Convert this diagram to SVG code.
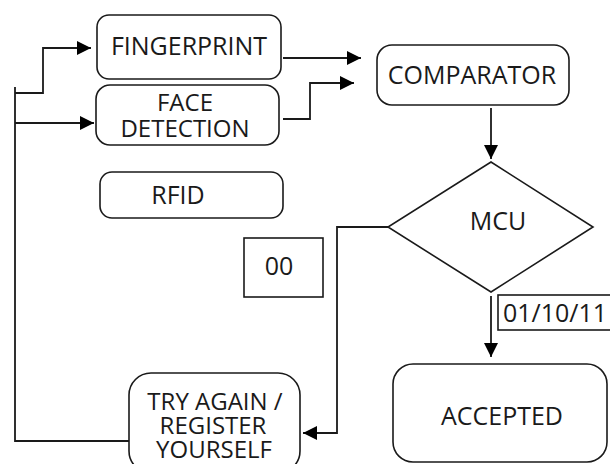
<svg xmlns="http://www.w3.org/2000/svg" width="610" height="464" viewBox="0 0 610 464">
<style>
.box{fill:#fff;stroke:#1a1a1a;stroke-width:1.6}
.t{font-family:"Open Sans","Noto Sans",sans-serif;font-size:25px;fill:#1a1a1a;text-anchor:middle}
.s{font-size:24px}
.c{fill:none;stroke:#1a1a1a;stroke-width:1.8}
</style>
<defs>
<marker id="ah" viewBox="0 0 14 14" refX="14" refY="7" markerWidth="14" markerHeight="14" markerUnits="userSpaceOnUse" orient="auto">
<path d="M0,0 L14,7 L0,14 z" fill="#000"/>
</marker>
</defs>
<g id="connectors">
<path class="c" d="M15,87 V441 H129"/>
<path class="c" d="M15,93 H43 V48 H91" marker-end="url(#ah)"/>
<path class="c" d="M15,123 H94" marker-end="url(#ah)"/>
<path class="c" d="M283,58 H361" marker-end="url(#ah)"/>
<path class="c" d="M283,119 H310 V83 H354" marker-end="url(#ah)"/>
<path class="c" d="M491,108 V159" marker-end="url(#ah)"/>
<path class="c" d="M388,227 H337 V433 H303" marker-end="url(#ah)"/>
<path class="c" d="M491,296 V357" marker-end="url(#ah)"/>
</g>
<g id="fingerprint">
<rect class="box" x="97" y="15" width="184" height="64" rx="12"/>
<text class="t" x="189" y="55">FINGERPRINT</text>
</g>
<g id="face-detection">
<rect class="box" x="96" y="85" width="183" height="60" rx="14"/>
<text class="t s" x="185" y="111">FACE</text>
<text class="t s" x="185" y="137">DETECTION</text>
</g>
<g id="rfid">
<rect class="box" x="100" y="172" width="183" height="46" rx="12"/>
<text class="t" x="178" y="204">RFID</text>
</g>
<g id="comparator">
<rect class="box" x="377" y="45" width="192" height="60" rx="15"/>
<text class="t" x="472" y="84">COMPARATOR</text>
</g>
<g id="mcu">
<polygon class="box" points="491,162 593,227 491,292 388,227"/>
<text class="t" x="498" y="230">MCU</text>
</g>
<g id="label-00">
<rect class="box" x="244" y="238" width="79" height="59"/>
<text class="t" x="279" y="275">00</text>
</g>
<g id="label-011011">
<rect class="box" x="498" y="295" width="120" height="35"/>
<text class="t" x="503" y="322" style="text-anchor:start">01/10/11</text>
</g>
<g id="try-again">
<rect class="box" x="129" y="373" width="171" height="100" rx="22"/>
<text class="t s" x="215" y="410">TRY AGAIN /</text>
<text class="t s" x="213" y="434">REGISTER</text>
<text class="t s" x="214" y="458">YOURSELF</text>
</g>
<g id="accepted">
<rect class="box" x="393" y="364" width="214" height="98" rx="20"/>
<text class="t" x="502" y="425">ACCEPTED</text>
</g>
</svg>
